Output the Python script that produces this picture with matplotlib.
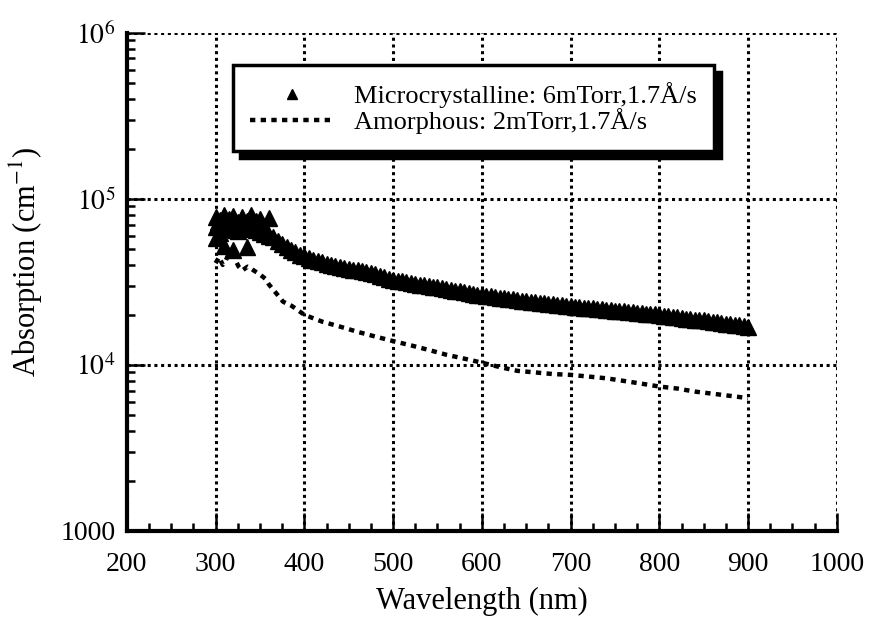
import matplotlib
matplotlib.use('Agg')
import matplotlib.pyplot as plt
from matplotlib.ticker import FixedLocator, MultipleLocator, LogLocator, NullFormatter

plt.rcParams['font.family'] = ['Liberation Serif', 'DejaVu Serif']
plt.rcParams['mathtext.fontset'] = 'stix'

# Microcrystalline: 6mTorr, 1.7 A/s  (triangles)
micro_wl = [300, 300, 300, 303, 305, 305, 308, 310, 310, 310, 313, 315, 315, 318,
            320, 320, 320, 323, 325, 325, 328, 330, 330, 333, 335, 335, 338,
            340, 340, 343, 345, 345, 348, 350, 350, 353, 355, 355, 358, 360, 360,
            365, 370, 375, 380, 385, 390, 395,
            400, 405, 410, 415, 420, 425, 430, 435, 440, 445,
            450, 455, 460, 465, 470, 475, 480, 485, 490, 495,
            500, 505, 510, 515, 520, 525, 530, 535, 540, 545,
            550, 555, 560, 565, 570, 575, 580, 585, 590, 595,
            600, 605, 610, 615, 620, 625, 630, 635, 640, 645,
            650, 655, 660, 665, 670, 675, 680, 685, 690, 695,
            700, 705, 710, 715, 720, 725, 730, 735, 740, 745,
            750, 755, 760, 765, 770, 775, 780, 785, 790, 795,
            800, 805, 810, 815, 820, 825, 830, 835, 840, 845,
            850, 855, 860, 865, 870, 875, 880, 885, 890, 895, 900]
micro_abs = [7.8e4, 6.8e4, 5.8e4, 7.2e4, 7.5e4, 6.2e4, 6.6e4, 8.0e4, 7.0e4, 5.2e4,
             7.3e4, 7.6e4, 6.6e4, 6.9e4, 7.9e4, 6.9e4, 4.9e4, 6.5e4, 7.2e4, 6.4e4,
             6.8e4, 7.8e4, 6.6e4, 7.0e4, 7.4e4, 5.1e4, 6.7e4,
             8.0e4, 6.8e4, 7.0e4, 7.3e4, 6.5e4, 6.6e4, 7.6e4, 6.3e4, 6.5e4, 6.9e4, 6.1e4,
             6.3e4, 7.7e4, 6.0e4,
             5.9e4, 5.6e4, 5.35e4, 5.1e4, 4.9e4, 4.75e4, 4.6e4,
             4.5e4, 4.4e4, 4.3e4, 4.22e4, 4.15e4, 4.07e4, 4.0e4, 3.95e4, 3.9e4, 3.85e4,
             3.8e4, 3.75e4, 3.7e4, 3.65e4, 3.6e4, 3.55e4, 3.5e4, 3.45e4, 3.38e4, 3.3e4,
             3.25e4, 3.22e4, 3.18e4, 3.14e4, 3.1e4, 3.07e4, 3.04e4, 3.01e4, 2.98e4, 2.95e4,
             2.93e4, 2.9e4, 2.86e4, 2.83e4, 2.8e4, 2.77e4, 2.74e4, 2.71e4, 2.68e4, 2.65e4,
             2.62e4, 2.6e4, 2.58e4, 2.56e4, 2.54e4, 2.52e4, 2.5e4, 2.48e4, 2.46e4, 2.44e4,
             2.42e4, 2.4e4, 2.39e4, 2.37e4, 2.35e4, 2.33e4, 2.31e4, 2.3e4, 2.28e4, 2.27e4,
             2.25e4, 2.24e4, 2.22e4, 2.21e4, 2.2e4, 2.19e4, 2.18e4, 2.16e4, 2.15e4, 2.13e4,
             2.12e4, 2.11e4, 2.1e4, 2.08e4, 2.07e4, 2.06e4, 2.05e4, 2.03e4, 2.02e4, 2.01e4,
             2.0e4, 1.98e4, 1.97e4, 1.95e4, 1.94e4, 1.92e4, 1.9e4, 1.89e4, 1.87e4, 1.86e4,
             1.85e4, 1.83e4, 1.82e4, 1.8e4, 1.79e4, 1.77e4, 1.76e4, 1.74e4, 1.73e4, 1.71e4,
             1.7e4]

# Amorphous: 2mTorr, 1.7 A/s  (dotted line)
amor_wl = [300, 304, 308, 311, 315, 320, 323, 326, 330, 336, 340, 343, 350, 356,
           360, 367, 376, 386, 400, 420, 440, 460, 480, 500, 520, 540, 560, 580,
           600, 620, 640, 660, 680, 700, 720, 740, 760, 780, 800, 820, 840, 860,
           880, 900]
amor_abs = [4.1e4, 4.45e4, 4.0e4, 4.2e4, 4.7e4, 4.65e4, 4.2e4, 3.9e4, 3.7e4, 3.9e4,
            3.8e4, 3.7e4, 3.5e4, 3.3e4, 3.05e4, 2.75e4, 2.4e4, 2.26e4, 2.0e4, 1.82e4,
            1.7e4, 1.58e4, 1.48e4, 1.39e4, 1.31e4, 1.23e4, 1.15e4, 1.09e4, 1.03e4,
            9.7e3, 9.2e3, 9.0e3, 8.8e3, 8.7e3, 8.5e3, 8.3e3, 8.0e3, 7.7e3, 7.4e3,
            7.2e3, 6.9e3, 6.7e3, 6.5e3, 6.3e3]

ytick_vals = [1e3, 1e4, 1e5, 1e6]
ytick_labels = ['1000', '$10^4$', '$10^5$', '$10^6$']

fig = plt.figure(figsize=(8.69, 6.18), dpi=100)
ax = fig.add_axes([0.146, 0.141, 0.817, 0.806])

ax.plot(micro_wl, micro_abs, linestyle='none', marker='^', markersize=12,
        color='black', label='Microcrystalline: 6mTorr,1.7Å/s')
ax.plot(amor_wl, amor_abs, linestyle=(0, (1.2, 1.2)), linewidth=3.2,
        color='black', label='Amorphous: 2mTorr,1.7Å/s')

ax.set_yscale('log')
ax.set_xlim(200, 1000)
ax.set_ylim(1e3, 1e6)

ax.xaxis.set_major_locator(MultipleLocator(100))
ax.xaxis.set_minor_locator(MultipleLocator(25))
ax.yaxis.set_major_locator(FixedLocator(ytick_vals))
ax.set_yticklabels(ytick_labels)
ax.yaxis.set_minor_locator(LogLocator(base=10, subs=range(2, 10)))
ax.yaxis.set_minor_formatter(NullFormatter())

ax.tick_params(which='both', direction='in', width=1.8, labelsize=20, colors='black')
ax.tick_params(which='major', length=13)
ax.tick_params(axis='x', which='major', pad=15)
ax.tick_params(axis='y', which='major', pad=8)
ax.tick_params(which='minor', length=6)

ax.grid(True, which='major', color='black', linestyle=(0, (1, 1.2)), linewidth=2.2)

for s in ['top', 'right']:
    ax.spines[s].set_visible(False)
for s in ['left', 'bottom']:
    ax.spines[s].set_linewidth(3)

ax.set_xlabel('Wavelength (nm)', fontsize=22, va='top')
ax.xaxis.set_label_coords(0.5, -0.112)
ax.set_ylabel('Absorption (cm$^{-1}$)', fontsize=22)
ax.yaxis.set_label_coords(-0.115, 0.54)

leg = ax.legend(loc='upper left', bbox_to_anchor=(0.149, 0.935), borderaxespad=0,
                fontsize=19, numpoints=1, handlelength=3.2, handletextpad=0.75,
                labelspacing=0.0, borderpad=0.65, fancybox=False, framealpha=1,
                edgecolor='black',
                shadow={'ox': 5, 'oy': -5, 'color': 'black', 'alpha': 1})
leg.get_frame().set_linewidth(2.5)
leg.legend_handles[0].set_markersize(7)

fig.savefig('out.png', dpi=100)
